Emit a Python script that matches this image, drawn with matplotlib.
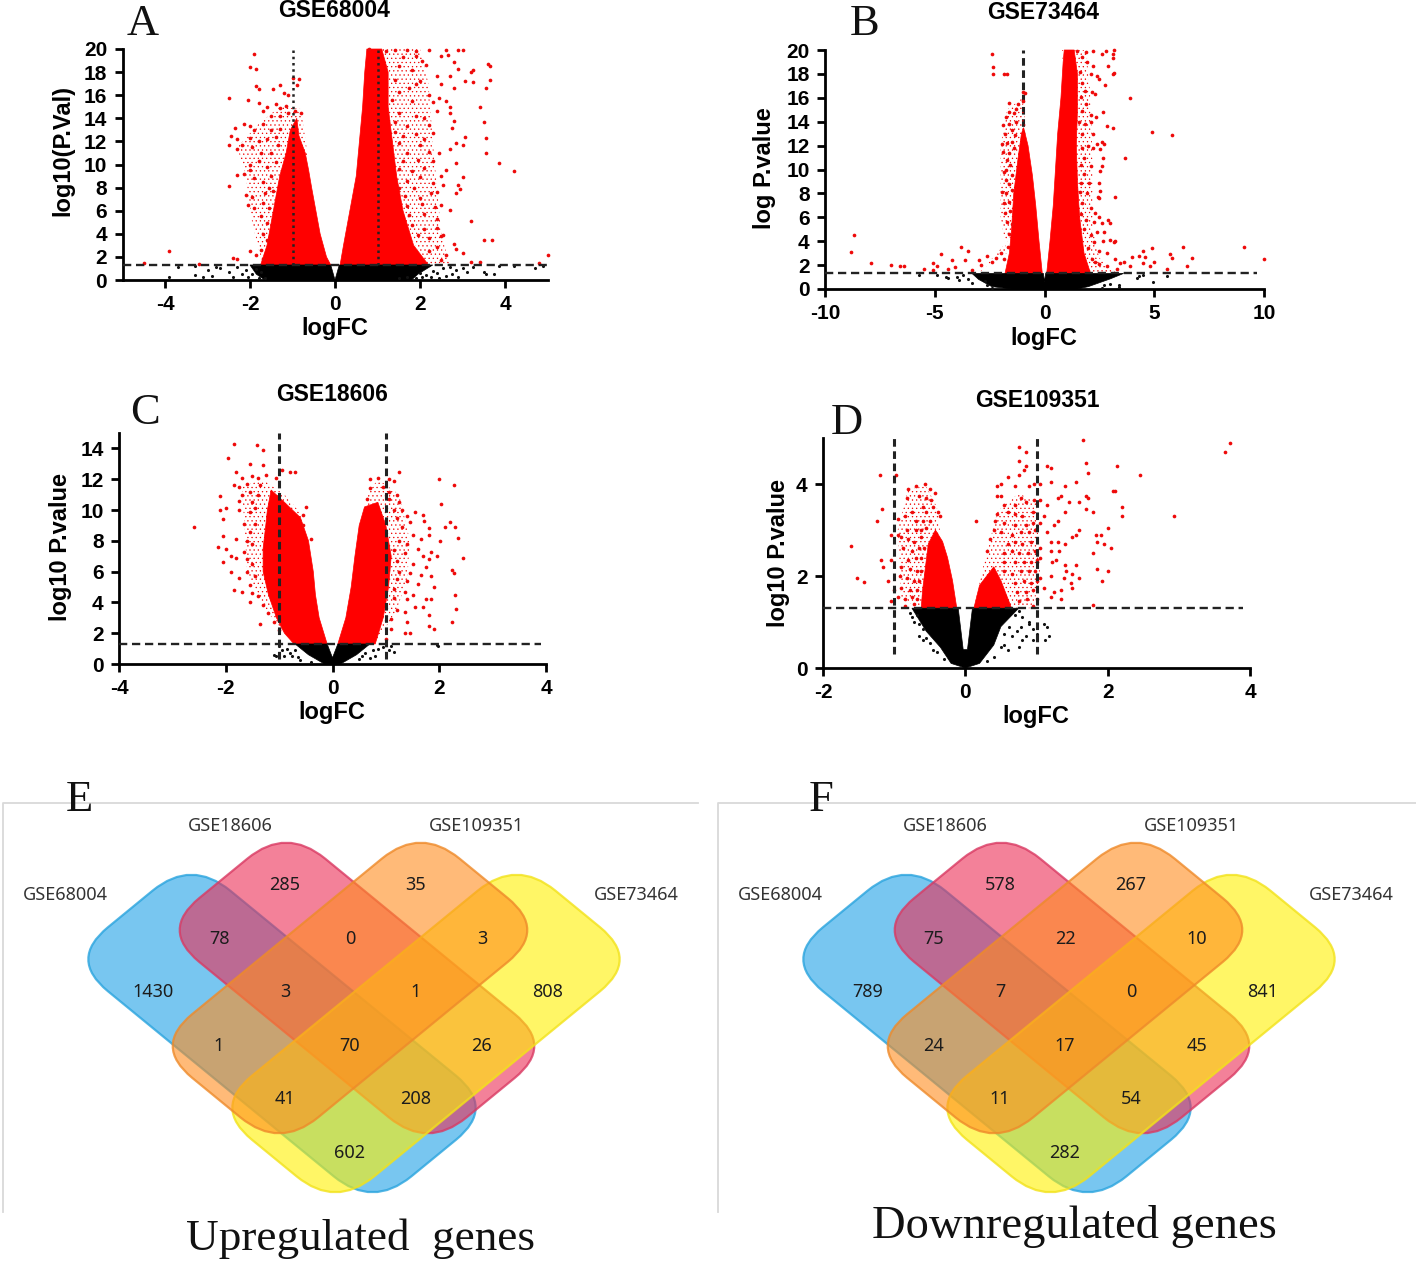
import numpy as np
import matplotlib
matplotlib.use("Agg")
import matplotlib.pyplot as plt
from matplotlib.patches import FancyBboxPatch
from matplotlib.transforms import Affine2D

plt.rcParams["axes.unicode_minus"] = False
plt.rcParams["hatch.linewidth"] = 0.4

W, H = 1416, 1268

# ---------- volcano data: envelopes of solid cores, envelopes of the speckled zones, readable loose points ----------
A_red_left_core = [(-0.1,1.3),(-0.2,2),(-0.35,4),(-0.45,6),(-0.55,8),(-0.62,9.5),(-0.7,11),(-0.85,12.5),(-0.9,14),(-1.05,13),(-1.15,11),(-1.3,9),(-1.4,7),(-1.5,5),(-1.6,3),(-1.75,1.3)]
A_red_right_core = [(0.12,1.3),(0.2,3),(0.3,5),(0.4,7),(0.5,9),(0.55,11),(0.6,13),(0.65,15),(0.7,18),(0.75,20),(1.1,20),(1.25,18),(1.25,15),(1.35,12),(1.45,9),(1.6,6),(1.85,3),(2.2,1.3)]
A_red_left_zone = [(-1.7,1.3),(-1.95,5),(-2.1,9),(-2.3,11.5),(-1.8,13.5),(-1.3,15),(-0.8,14.8),(-0.65,11),(-1.0,5)]
A_red_right_zone = [(0.75,20),(2.0,20),(2.2,17),(2.3,12),(2.4,8),(2.5,4),(2.7,1.3),(2.1,1.3),(1.0,10)]
A_black_core = [(-2.0,1.3),(-0.1,1.3),(0,0),(0.1,1.3),(2.3,1.3),(1.95,0.5),(1.8,0),(-1.65,0),(-1.85,0.5)]
A_red_points = [(-1.9,19.6),(-2,18.4),(-1.85,18.3),(-1.85,16.8),(-1.8,16.5),(-1.45,16.5),(-1.3,16.9),(-1.2,16.2),(-1.1,16),(-1,17.5),(-0.85,17.4),(-0.9,16.9),(-2.5,15.8),(-2.05,15.6),(-1.8,15.3),(-1.6,15),(-1.4,15.2),(-1.3,14.9),(-1.15,15.1),(-1.7,14.6),(-1.5,14.2),(-1.3,14.2),(-1.1,14.5),(-0.95,14.6),(-0.8,14.5),(-2.35,13.2),(-2.15,13.5),(-2,13.3),(-1.9,13),(-1.7,13.5),(-1.5,13),(-1.3,13.1),(-2.45,12.5),(-2.3,12.2),(-2,12.3),(-1.8,12),(-1.6,12.2),(-1.4,12.4),(-2.5,11.7),(-2.3,11.3),(-2.2,11.7),(-1.95,11.5),(-1.75,11),(-1.5,11),(-1.35,11.7),(-2,10),(-1.8,10.3),(-1.6,9.8),(-1.4,10.2),(-2.3,9.1),(-2.15,9.2),(-2,9.5),(-1.9,8.8),(-1.7,8.5),(-1.5,9),(-2.5,8.1),(-1.55,8),(-2.1,7.4),(-1.95,7.2),(-1.65,7.5),(-1.45,7.7),(-2.05,6.5),(-1.9,6.2),(-1.7,6.7),(-1.55,6.2),(-1.75,5.5),(-1.6,4.9),(-1.7,4),(-1.6,3.5),(-1.85,2.2),(-4.5,1.5),(-3.9,2.5),(-3.2,1.4),(-2.4,1.9),(-2.3,1.8),(-2,2.5),(-1.75,2.6),(-1.7,1.8),
(0.8,20),(1.2,19.8),(1.4,19.9),(1.7,19.9),(1.9,19.8),(2.2,19.9),(2.6,19.9),(2.9,19.9),(3,19.9),(2.5,19.4),(2.65,19.5),(1.6,19.3),(1.9,19.4),(2.05,19),(2.15,18.6),(2.8,18.9),(2.9,18.3),(3.25,18.2),(3.2,18),(3.6,18.7),(3.65,18.5),(1.5,18.5),(1.8,18.2),(2.4,17.7),(2.7,17.7),(3.05,17.2),(3.25,17.1),(3.65,17.3),(1.4,17.3),(1.9,17),(2,17.2),(2.5,17),(2.8,16.6),(3.55,16.6),(1.5,16.3),(1.75,16.6),(2.2,16),(2.45,15.8),(2.6,15.5),(1.35,15.6),(1.8,15.5),(2.3,15.4),(2.7,15),(3.4,15),(1.5,14.5),(1.9,14.2),(2.1,14),(2.4,14.6),(2.7,14.5),(1.4,13.7),(1.7,13.3),(2.2,13.4),(2.8,13.8),(3.5,13.7),(2.75,13.2),(1.4,12.8),(1.6,12.5),(1.9,12.6),(2.1,12.2),(2.3,12.7),(3.05,12.4),(3.55,12.3),(1.5,11.9),(2,11.7),(2.85,11.9),(2.7,11.3),(3,11.7),(1.7,11),(2.2,11.1),(2.45,11),(3.55,11),(1.6,10.3),(1.95,10.4),(2.3,10.3),(2.85,10.1),(3.85,10.1),(1.5,9.6),(1.8,9.4),(2.1,9.7),(2.6,9.5),(4.2,9.4),(1.7,8.6),(2,8.9),(2.3,8.4),(2.5,9),(3,8.9),(1.5,8),(1.85,8),(2.25,7.5),(2.55,8.2),(2.9,8.2),(2.95,7.9),(1.65,7.3),(2,7.1),(2.4,7.6),(2.85,7.5),(1.7,6.4),(2.05,6.6),(2.35,6.3),(2.5,6.5),(2.7,6.1),(1.75,5.6),(2.1,5.7),(2.4,5.3),(1.8,4.8),(2.1,4.4),(2.4,4.5),(3.2,5.1),(1.95,3.9),(2.2,3.6),(2.5,3.8),(2.55,3.9),(3.5,3.5),(3.7,3.5),(2.8,3.1),(2.85,2.7),(2.4,2.9),(2.2,2.5),(3,2.3),(2.6,2.2),(2.5,1.7),(3.4,1.6),(3.2,1.6),(4.8,1.5),(5,2.2)]
A_black_points = [(-3.9,0.3),(-3.3,0.4),(-3.1,0.3),(-3.0,0.9),(-2.9,0.35),(-2.7,1.0),(-2.5,0.7),(-2.4,0.3),(-2.3,1.1),(-2.2,0.5),(-2.1,0.9),(-2.05,0.25),(-1.95,0.5),(-1.85,0.95),(-1.8,0.2),(-1.75,0.7),(-1.65,0.15),(-2.8,1.15),(-3.3,1.2),(-3.7,1.15),
(1.5,0.2),(1.7,0.25),(1.9,0.2),(2,0.6),(2.05,0.3),(2.15,0.45),(2.25,0.3),(2.3,0.8),(2.4,0.6),(2.45,0.15),(2.55,1),(2.6,0.35),(2.7,1.1),(2.75,0.5),(2.85,0.9),(2.9,0.3),(3,1.05),(3.1,0.7),(3.25,1.1),(3.5,0.7),(3.55,0.5),(3.75,0.5),(4.7,1.0),(4.9,1.25),(4.2,1.2),(3.85,1.25)]

B_red_left_core = [(-0.1,1.3),(-0.25,4),(-0.4,7),(-0.55,9.5),(-0.75,12),(-0.95,13.5),(-1.05,13),(-1.2,11),(-1.4,8),(-1.5,5),(-1.6,3),(-1.8,1.3)]
B_red_right_core = [(0.1,1.3),(0.25,4),(0.4,7),(0.5,10),(0.6,13),(0.75,16),(0.85,19),(0.9,20),(1.35,20),(1.5,18),(1.5,15),(1.45,12),(1.5,9),(1.6,6),(1.8,3),(2.1,1.3)]
B_red_left_zone = [(-3,1.3),(-2.2,2.6),(-1.7,3),(-2.0,6),(-2.0,12),(-1.7,15),(-1,16),(-0.85,13.5),(-1.2,5)]
B_red_right_zone = [(0.8,20),(1.9,20),(2.1,16),(2.2,10),(2.2,5),(2.5,2.6),(3.3,1.3),(1.7,1.3),(1.2,8)]
B_black_core = [(-3.3,1.3),(-0.05,1.3),(0,0.6),(0.05,1.3),(3.6,1.3),(3.0,0.85),(2.0,0.2),(1.5,0),(-1.5,0),(-2.4,0.2),(-3.0,0.8)]
B_red_points = [(-2.4,19.7),(-2.35,18.6),(-2.35,18),(-1.85,18),(-1.7,18),(-1,16.5),(-0.9,16.4),(-1,15.7),(-1.6,15.6),(-1.2,15.5),(-1.6,14.8),(-1.4,14.7),(-1.3,15.1),(-1.75,14.4),(-1.9,13.7),(-1.6,13.8),(-1.3,14),(-1.8,13),(-1.5,13.3),(-1.95,12.1),(-1.7,12.2),(-1.5,12.3),(-1.35,12.9),(-1.9,11.5),(-1.6,11.4),(-1.4,11.8),(-1.7,10.8),(-1.55,10.4),(-1.75,10),(-1.85,9.8),(-1.5,9.5),(-1.75,9.1),(-1.6,8.8),(-1.95,8.1),(-1.75,8),(-1.5,8.3),(-1.85,7.2),(-1.6,7.3),(-1.8,6.4),(-1.55,6.5),(-1.7,5.6),(-1.5,5.4),(-1.6,4.6),(-1.65,3.5),(-2,3),(-1.85,2.5),(-2.2,2.6),(-2.4,2.3),(-2.6,2.8),(-2.9,2),(-3,2.4),(-3.3,1.6),(-3.5,3.2),(-3.6,2.4),(-3.8,3.5),(-4.1,1.8),(-4.2,2.4),(-4.4,1.7),(-4.7,2.9),(-4.9,1.9),(-5.1,1.6),(-5.5,1.7),(-5.1,2.2),(-6.4,1.9),(-6.6,1.9),(-7,2),(-7.9,2.2),(-8.8,3.1),(-8.7,4.5),
(1.5,19.9),(1.9,19.8),(2.2,19.9),(2.6,19.7),(2.8,19.9),(3.15,20),(3.1,19.7),(3.1,19.3),(1.7,19.4),(1.95,19),(2.2,18.7),(2.9,18.7),(3.15,18.1),(3.1,18),(1.6,18.2),(2.1,18),(2.4,17.8),(2.5,17.6),(1.7,17.2),(2.75,17.1),(1.85,16.6),(2.15,16.5),(1.65,16.1),(2.3,16.3),(1.9,15.5),(3.9,16),(1.7,14.9),(2.1,14.6),(2.35,14.4),(2.65,14.8),(1.55,14),(1.85,13.8),(2.1,14),(2.85,13.6),(3.1,13.5),(4.9,13.1),(5.8,12.9),(1.7,13),(2.2,13),(2.6,12.3),(2.4,12.1),(2.2,11.8),(2.7,12.1),(1.7,11.8),(2,12),(1.8,11),(2.55,11.7),(2.65,11),(3.65,11),(1.65,10.4),(2.1,10.3),(2.6,10.3),(2.55,9.9),(1.8,9.6),(1.65,8.9),(2.05,8.9),(2.5,8.9),(2.55,8.2),(1.6,8.1),(1.95,8),(2.45,7.7),(2.5,7.6),(3.2,7.7),(1.7,7.2),(2.1,6.8),(2.3,6.4),(1.65,6.3),(2.5,6),(1.9,5.8),(2.25,5.6),(2.6,5.5),(2.9,5.8),(3,5.5),(1.8,5),(2.1,4.5),(2.4,4.8),(2.7,4.8),(2.25,3.9),(2.65,4),(3,4.1),(3.15,3.9),(3.2,4),(2,3.4),(2.5,3.2),(2.85,3),(2.15,2.5),(2.3,2.3),(2.5,2.1),(3.2,2.5),(3.45,2.2),(3.6,2.3),(3.9,1.9),(2.85,1.9),(3.3,1.7),(4,2.7),(4.3,2.8),(4.5,2.2),(4.5,3.2),(4.9,3.4),(4.6,2.7),(5,2.3),(4.8,1.9),(5.7,2.9),(5.8,2.6),(6.3,3.5),(6.7,2.6),(6.5,1.9),(5.6,1.7),(9.1,3.5),(10,2.5)]
B_black_points = [(-5.7,1.2),(-4.9,1.2),(-4.5,1.0),(-4.4,0.9),(-4,1.0),(-3.9,0.75),(-3.7,1.2),(-3.5,0.8),(-3.3,0.5),(-2.6,0.3),(-2.4,0.1),(-2.7,0.7),(3.4,0.3),(3.4,0.15),(2.7,0.3),(3.0,0.45),(2.6,0.1),(4.3,1.05),(4.2,0.95),(4.95,0.6),(5.6,1.1),(4.5,1.2)]

C_red_left_core = [(-0.1,1.3),(-0.25,3),(-0.32,4.5),(-0.36,6),(-0.45,8),(-0.6,9.5),(-0.9,10.5),(-1.15,11.3),(-1.22,10),(-1.25,9),(-1.3,7.5),(-1.3,6),(-1.2,4.5),(-1.05,3),(-0.9,2),(-0.72,1.3)]
C_red_right_core = [(0.1,1.3),(0.25,3),(0.35,5),(0.42,7),(0.5,9),(0.6,10.2),(0.85,10.5),(1.0,9),(1.1,7),(1.05,5),(0.95,3),(0.8,1.3)]
C_red_left_zone = [(-0.72,1.3),(-1.25,3.5),(-1.6,6),(-1.65,9),(-1.7,11.5),(-1.3,12),(-0.9,11),(-0.55,9.6),(-1,5)]
C_red_right_zone = [(0.8,1.3),(1.2,3.5),(1.4,5.5),(1.45,8),(1.25,11),(0.85,12),(0.65,11),(0.6,9),(0.9,3)]
C_black_core = [(-0.7,1.3),(-0.1,1.3),(0,0.4),(0.1,1.3),(0.7,1.3),(0.45,0.6),(0.15,0),(-0.15,0),(-0.45,0.6)]
C_red_points = [(-1.85,14.3),(-1.42,14.2),(-1.3,13.9),(-1.95,13.4),(-1.55,13),(-1.3,12.9),(-1.8,12.5),(-0.95,12.6),(-0.8,12.5),(-0.7,12.5),(-1.7,12.1),(-1.5,12.2),(-1.4,12.1),(-1.25,12.3),(-1.05,12.1),(-1.85,11.6),(-1.75,11.5),(-1.6,11.7),(-1.35,11.6),(-1.7,11),(-1.55,11.2),(-1.4,11),(-2.1,10.9),(-1.5,10.5),(-1.75,10.6),(-2.1,10),(-2.0,10.1),(-1.75,10),(-1.55,9.9),(-1.45,10.1),(-0.5,10.2),(-0.55,9.7),(-2.05,9.4),(-2.6,8.9),(-1.65,9.1),(-1.55,8.6),(-1.45,9.1),(-0.55,9),(-2.05,8.3),(-1.8,8.1),(-1.6,8),(-1.5,7.8),(-2.15,7.6),(-2,7.5),(-1.65,7.3),(-0.4,8.1),(-1.9,7),(-1.8,6.9),(-1.6,6.8),(-2.05,6.6),(-1.5,6.5),(-1.9,6),(-1.6,6),(-1.45,5.7),(-1.75,5.6),(-1.55,5.1),(-1.85,4.8),(-1.7,4.7),(-1.5,4.6),(-1.4,4.4),(-1.55,4),(-1.3,3.8),(-1.2,3.3),(-1.35,2.6),(-1.1,2.7),(-1.0,2.2),
(0.7,12),(0.85,12.1),(1.05,12),(1.15,11.9),(1.25,12.5),(0.7,11.4),(0.95,11.5),(1.05,11.2),(1.2,11),(0.65,10.7),(1.05,10.7),(1.25,10.5),(2,12),(2.28,11.6),(2.03,10.4),(1.15,10),(1.3,10),(1.4,9.6),(1.55,9.9),(1.7,9.7),(1.72,9.3),(1.2,9.5),(1.45,9.2),(1.8,8.8),(2.1,8.9),(2.2,9.2),(2.3,8.9),(1.3,8.9),(1.5,8.4),(1.65,8.1),(1.8,8.4),(2.35,8.2),(2.02,8),(1.25,8),(1.4,7.8),(1.6,7.5),(1.85,7.3),(1.95,7),(1.15,7.4),(1.35,7.2),(1.7,7),(1.8,6.8),(2.45,6.9),(1.2,6.7),(1.5,6.5),(1.75,6.3),(2.23,6.1),(2.28,5.9),(1.25,6),(1.45,5.9),(1.65,5.8),(1.85,5.7),(1.2,5.5),(1.4,5.4),(1.6,5.2),(1.9,5),(1.15,4.9),(1.35,4.7),(1.5,4.5),(1.75,4.2),(1.85,4.2),(2.3,4.5),(1.15,4.3),(1.4,4.2),(1.55,3.7),(1.7,3.7),(2.32,3.6),(1.2,3.5),(1.35,3.4),(1.8,3.2),(1.1,2.9),(1.4,2.7),(1.8,2.5),(2.23,2.7),(1.9,2.3),(1.35,2),(1.45,2),(1.1,2.3),(1.0,1.6)]
C_black_points = [(-1.1,0.6),(-1.05,0.55),(-1.0,1.2),(-0.95,0.9),(-0.9,0.55),(-0.85,1.0),(-0.8,0.7),(-0.75,0.5),(-0.7,0.9),(-0.65,0.45),(-0.6,0.25),(-0.4,0.1),(0.5,0.3),(0.55,0.5),(0.6,0.7),(0.7,0.4),(0.75,0.9),(0.8,0.5),(0.85,0.95),(0.95,1.1),(1.05,0.9),(1.1,1.2),(1.15,0.75),(1.95,1.25),(1.98,1.2)]

D_red_left_core = [(-0.12,1.3),(-0.18,1.9),(-0.25,2.4),(-0.32,2.75),(-0.42,3.0),(-0.52,2.7),(-0.56,2.2),(-0.6,1.7),(-0.62,1.3)]
D_red_right_core = [(0.12,1.3),(0.2,1.8),(0.3,2.0),(0.4,2.2),(0.5,1.9),(0.6,1.5),(0.65,1.3)]
D_red_left_zone = [(-0.62,1.3),(-0.9,1.5),(-0.95,3),(-0.8,3.9),(-0.55,3.95),(-0.4,3.5),(-0.35,2.9),(-0.55,2)]
D_red_right_zone = [(0.12,1.3),(0.25,2.2),(0.45,3.4),(0.75,3.8),(1.0,3.6),(1.05,2),(0.95,1.3)]
D_black_core = [(-0.75,1.3),(-0.1,1.3),(-0.03,0.4),(0.03,0.4),(0.1,1.3),(0.75,1.3),(0.5,0.9),(0.4,0.5),(0.2,0.1),(0,0),(-0.2,0.1),(-0.35,0.45),(-0.55,0.8)]
D_red_points = [(-1.2,4.2),(-0.98,4.2),(-1.17,3.45),(-1.24,3.2),(-1.6,2.65),(-1.18,2.35),(-1.15,2.2),(-1.52,1.95),(-1.42,1.88),(-1.05,2.35),(-1.08,1.9),(-1.0,1.7),(-1.05,1.45),(-1.05,2.9),(-0.95,2.9),(-0.95,3.25),
(-0.8,3.9),(-0.7,3.95),(-0.57,4.0),(-0.5,3.9),(-0.42,3.8),(-0.82,3.7),(-0.65,3.75),(-0.55,3.7),(-0.48,3.65),(-0.6,3.5),(-0.45,3.5),(-0.38,3.4),(-0.75,3.4),(-0.55,3.4),(-0.35,3.3),(-0.85,3.3),(-0.7,3.2),(-0.6,3.2),(-0.5,3.2),(-0.82,3),(-0.7,3),(-0.62,3),(-0.55,3.05),(-0.9,2.85),(-0.8,2.8),(-0.72,2.75),(-0.62,2.85),(-0.88,2.6),(-0.75,2.55),(-0.65,2.6),(-0.58,2.6),(-0.8,2.35),(-0.7,2.4),(-0.62,2.4),(-0.9,2.2),(-0.78,2.15),(-0.68,2.1),(-0.62,2.1),(-0.92,2),(-0.82,1.95),(-0.72,1.9),(-0.65,1.9),(-0.9,1.75),(-0.78,1.7),(-0.68,1.7),(-0.95,1.55),(-0.85,1.5),(-0.75,1.55),(-0.68,1.5),(-0.85,1.35),(-0.72,1.4),
(0.15,3.2),(0.45,3.95),(0.5,4),(0.5,3.75),(0.45,3.75),(0.55,3.55),(0.6,4.15),(0.75,4.8),(0.85,4.7),(0.75,4.5),(0.85,4.4),(0.82,4.3),(0.75,4.2),(0.7,3.95),(0.9,3.95),(0.97,4),(0.78,3.7),(0.7,3.55),(0.85,3.6),(0.97,3.65),(0.6,3.4),(0.45,3.35),(0.7,3.35),(0.8,3.3),(0.95,3.4),(0.42,3.2),(0.55,3.15),(0.7,3.1),(0.85,3.1),(0.95,3.15),(0.4,3),(0.5,2.95),(0.65,2.9),(0.78,2.95),(0.9,2.95),(0.98,3),(0.35,2.8),(0.6,2.7),(0.7,2.75),(0.8,2.7),(0.92,2.75),(0.3,2.55),(0.55,2.5),(0.65,2.55),(0.75,2.5),(0.88,2.5),(0.98,2.55),(0.55,2.3),(0.7,2.3),(0.82,2.3),(0.92,2.3),(1,2.35),(0.55,2.1),(0.65,2.05),(0.78,2.1),(0.9,2.1),(0.98,2.1),(0.7,1.85),(0.82,1.9),(0.92,1.85),(1,1.9),(0.72,1.65),(0.85,1.65),(0.95,1.7),(0.75,1.45),(0.87,1.5),(1,1.5),(0.95,1.35),
(1.05,4.0),(1.15,4.4),(1.2,4.35),(1.2,4.05),(1.05,3.65),(1.15,3.55),(1.1,3.3),(1.3,3.7),(1.35,3.75),(1.4,3.95),(1.45,3.6),(1.4,3.4),(1.3,3.2),(1.25,3.1),(1.05,3.15),(1.15,2.95),(1.2,2.75),(1.3,2.75),(1.4,2.7),(1.5,2.85),(1.55,2.9),(1.6,3),(1.05,2.6),(1.2,2.55),(1.32,2.55),(1.05,2.4),(1.22,2.3),(1.28,2.35),(1.4,2.25),(1.55,2.25),(1.5,2.05),(1.42,2.1),(1.05,1.95),(1.2,2.0),(1.38,1.95),(1.48,1.85),(1.6,1.95),(1.1,1.75),(1.25,1.65),(1.35,1.7),(1.5,1.75),(1.2,1.55),(1.35,1.5),(1.8,1.38),
(1.65,4.95),(1.7,4.45),(1.72,4.25),(1.55,4.05),(1.6,3.6),(1.7,3.75),(1.72,3.7),(1.7,3.45),(1.8,3.4),(2.13,4.4),(2.45,4.2),(2.1,3.85),(2.08,3.85),(2.2,3.5),(2.2,3.3),(2.93,3.3),(2.0,3.05),(1.83,2.9),(1.9,2.9),(1.85,2.75),(1.95,2.7),(2.05,2.6),(1.8,2.5),(1.85,2.15),(2.0,2.1),(1.92,1.9),(3.65,4.7),(3.72,4.9)]
D_black_points = [(-0.78,1.2),(-0.75,1.1),(-0.72,1.0),(-0.68,1.15),(-0.65,0.95),(-0.6,0.85),(-0.65,0.7),(-0.6,0.6),(-0.55,0.65),(-0.5,0.55),(-0.45,0.4),(-0.4,0.35),(-0.3,0.2),(0.55,0.5),(0.5,0.45),(0.6,0.4),(0.55,0.75),(0.62,0.9),(0.7,1.15),(0.75,1.25),(0.8,1.1),(0.78,0.9),(0.72,0.8),(0.65,0.7),(0.75,0.45),(0.8,0.6),(0.85,0.7),(0.9,0.95),(0.95,0.6),(0.9,1.0),(0.95,0.85),(1.0,0.75),(1.1,0.95),(1.15,0.9),(1.18,0.7),(1.12,0.6),(0.3,0.15),(0.4,0.25)]

# ---------- venn data ----------
venn_sets = ["GSE68004", "GSE18606", "GSE109351", "GSE73464"]
up_counts = [1430, 285, 35, 808, 78, 0, 3, 3, 1, 1, 70, 26, 41, 208, 602]
down_counts = [789, 578, 267, 841, 75, 22, 10, 7, 0, 24, 17, 45, 11, 54, 282]
venn_cell_x = [153, 285, 416, 548, 219, 350, 482, 285, 416, 219, 350, 482, 285, 416, 350]
venn_cell_y = [992, 885, 885, 992, 939, 939, 939, 992, 992, 1046, 1046, 1046, 1099, 1099, 1153]
venn_label_xy = [(65, 895), (230, 826), (476, 826), (636, 895)]

fig = plt.figure(figsize=(W/100, H/100), dpi=100, facecolor="white")

def px_axes(x0, x1, ytop, ybot, **kw):
    return fig.add_axes([x0/W, 1-ybot/H, (x1-x0)/W, (ybot-ytop)/H], **kw)

sans = "Liberation Sans"
serif = "Liberation Serif"

def volcano(x0, x1, ytop, ybot, xlim, ylim, xticks, yticks, title, tpos, xlab_pos, ylabel, ylab_pos,
            letter, lpos, red_cores, red_zones, black_core, red_pts, black_pts, vstyle, vtop, hline_end, vbot):
    ax = px_axes(x0, x1, ytop, ybot)
    ax.set_xlim(*xlim); ax.set_ylim(*ylim)
    ax.patch.set_alpha(0)
    for s in ["top", "right"]:
        ax.spines[s].set_visible(False)
    for s in ["left", "bottom"]:
        ax.spines[s].set_linewidth(2)
    ax.set_xticks(xticks); ax.set_yticks(yticks)
    ax.tick_params(length=6, width=2, pad=5, labelsize=15)
    for t in ax.get_xticklabels() + ax.get_yticklabels():
        t.set_fontfamily(sans); t.set_fontweight("bold")
    for zone in red_zones:
        c = np.array(zone)
        ax.fill(c[:, 0], c[:, 1], facecolor="none", edgecolor="#f00000", hatch="....", lw=0, zorder=1.6, clip_on=False)
    for core in red_cores:
        c = np.array(core)
        ax.fill(c[:, 0], c[:, 1], color="#ff0000", lw=0.5, zorder=2, clip_on=False)
    r = np.array(red_pts)
    ax.scatter(r[:, 0], r[:, 1], s=7, c="#ee0a0a", linewidths=0, zorder=2, clip_on=False)
    c = np.array(black_core)
    ax.fill(c[:, 0], c[:, 1], color="black", lw=0.5, zorder=3)
    b = np.array(black_pts)
    ax.scatter(b[:, 0], b[:, 1], s=5, c="#111111", linewidths=0, zorder=3, clip_on=False)
    ax.plot([xlim[0], hline_end], [1.3, 1.3], color="#222222", lw=1.7, ls=(0, (3.5, 2)), zorder=4)
    ls, lw, z = vstyle
    for v in (-1, 1):
        ax.plot([v, v], [vbot, vtop], color="#222222", lw=lw, ls=ls, zorder=z)
    ax.set_title(title, fontfamily=sans, fontweight="bold", fontsize=16.5, pad=0,
                 x=(tpos[0]-x0)/(x1-x0), y=(ybot-tpos[1]-7)/(ybot-ytop))
    ax.set_xlabel("logFC", fontfamily=sans, fontweight="bold", fontsize=17)
    ax.xaxis.set_label_coords((xlab_pos[0]-x0)/(x1-x0), (ybot-xlab_pos[1])/(ybot-ytop), transform=ax.transAxes)
    ax.xaxis.label.set_va("center")
    ax.set_ylabel(ylabel, fontfamily=sans, fontweight="bold", fontsize=17)
    ax.yaxis.set_label_coords((ylab_pos[0]-x0)/(x1-x0), (ybot-ylab_pos[1])/(ybot-ytop), transform=ax.transAxes)
    ax.yaxis.label.set_va("center")
    fig.text(lpos[0]/W, 1-lpos[1]/H, letter, fontfamily=serif, fontsize=32, ha="center", va="center", color="#111111")

dot = ((0, (1, 1.5)), 1.8, 5)
dash_over = ((0, (2.5, 1.5)), 2.2, 1)
dash_top = ((0, (2.5, 1.5)), 2.2, 5)

volcano(122.5, 547.5, 49, 280, (-5, 5), (0, 20), [-4, -2, 0, 2, 4], range(0, 21, 2), "GSE68004", (334, 10), (335, 328),
        "log10(P.Val)", (63, 150), "A", (143, 24), [A_red_left_core, A_red_right_core], [A_red_left_zone, A_red_right_zone], A_black_core, A_red_points, A_black_points, dot, 20, 5, 1.3)
volcano(825, 1264, 50, 289, (-10, 10), (0, 20), [-10, -5, 0, 5, 10], range(0, 21, 2), "GSE73464", (1043, 12), (1044, 338),
        "log P.value", (765, 168), "B", (865, 24), [B_red_left_core, B_red_right_core], [B_red_left_zone, B_red_right_zone], B_black_core, B_red_points, B_black_points, dash_over, 20, 9.7, 1.3)
volcano(119, 546, 433, 664, (-4, 4), (0, 15), [-4, -2, 0, 2, 4], [0, 2, 4, 6, 8, 10, 12, 14], "GSE18606", (332, 394), (332, 712),
        "log10 P.value", (60, 547), "C", (145, 413), [C_red_left_core, C_red_right_core], [C_red_left_zone, C_red_right_zone], C_black_core, C_red_points, C_black_points, dash_top, 15, 3.9, 0.3)
volcano(823, 1250, 438, 668, (-2, 4), (0, 5), [-2, 0, 2, 4], [0, 2, 4], "GSE109351", (1037, 400), (1036, 716),
        "log10 P.value", (778, 553), "D", (847, 423), [D_red_left_core, D_red_right_core], [D_red_left_zone, D_red_right_zone], D_black_core, D_red_points, D_black_points, dash_top, 5, 3.9, 0.3)

# ---------- overlay in pixel coordinates for the venn panels ----------
ov = fig.add_axes([0, 0, 1, 1], zorder=0)
ov.set_xlim(0, W); ov.set_ylim(H, 0); ov.axis("off")

SX = 1.22
def lozenge(cx, cy, L, S, r, angle, face, edge):
    p = FancyBboxPatch((-L/2 + r, -S/2 + r), L - 2*r, S - 2*r, boxstyle=f"round,pad={r},rounding_size={r}",
                       facecolor=matplotlib.colors.to_rgba(face, 0.6), edgecolor=matplotlib.colors.to_rgba(edge, 0.8), lw=1.6)
    p.set_transform(Affine2D().rotate_deg(angle).scale(SX, 1).translate(cx, cy) + ov.transData)
    ov.add_patch(p)

def venn(dx, counts, caption, cap_xy, cap_size):
    ov.plot([dx + 3, dx + 3, dx + 698 if dx == 0 else W], [1212, 803, 803], color="#d9d9d9", lw=1.3)
    lozenge(282 + dx, 1033.5, 352, 142, 45, 45, "#1ea0e6", "#2aa4de")        # GSE68004
    lozenge(357 + dx, 988, 310, 146, 45, 45, "#eb2d55", "#d93a63")           # GSE18606
    lozenge(426 + dx, 1033.5, 352, 142, 45, -45, "#fff000", "#f2e21a")       # GSE73464
    lozenge(350 + dx, 988, 310, 146, 45, -45, "#ff8c1e", "#ee8a2a")          # GSE109351
    for x, y, n in zip(venn_cell_x, venn_cell_y, counts):
        ov.text(x + dx, y, str(n), fontfamily="Noto Sans", fontsize=13, ha="center", va="center", color="#1c1c1c")
    for (x, y), s in zip(venn_label_xy, venn_sets):
        ov.text(x + dx, y, s, fontfamily="Noto Sans", fontsize=13, ha="center", va="center", color="#333333")
    ov.text(cap_xy[0], cap_xy[1], caption, fontfamily=serif, fontsize=cap_size, ha="center", va="center", color="#111111")

venn(0, up_counts, "Upregulated  genes", (360, 1239), 32.5)
venn(715, down_counts, "Downregulated genes", (1074, 1227), 33.5)
fig.text(79/W, 1-800/H, "E", fontfamily=serif, fontsize=32, ha="center", va="center", color="#111111")
fig.text(821/W, 1-800/H, "F", fontfamily=serif, fontsize=32, ha="center", va="center", color="#111111")

fig.savefig("out.png", dpi=100, facecolor="white")
